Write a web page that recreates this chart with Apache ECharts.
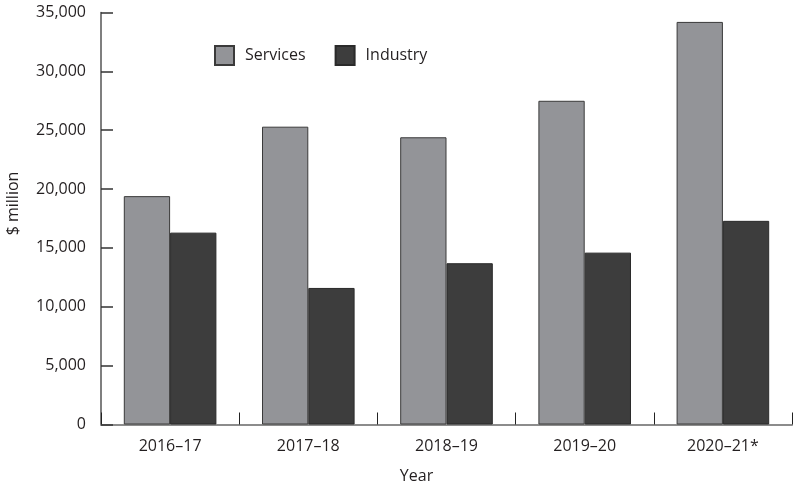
<!DOCTYPE html>
<html>
<head>
<meta charset="utf-8">
<script src="https://cdn.jsdelivr.net/npm/echarts@6/dist/echarts.min.js"></script>
<style>
  html, body { margin: 0; padding: 0; background: #fff; }
  #chart { width: 793px; height: 487px; }
</style>
</head>
<body>
<div id="chart"></div>
<script>
// Annual values, $ million
const years = ['2016–17', '2017–18', '2018–19', '2019–20', '2020–21*'];
const services = [19400, 25300, 24400, 27500, 34200];
const industry = [16300, 11600, 13700, 14600, 17300];
const yTicks = [0, 5000, 10000, 15000, 20000, 25000, 30000, 35000];

const FONT = '"Open Sans", sans-serif';
const TEXT = '#231f20';

const chart = echarts.init(document.getElementById('chart'), null, { renderer: 'canvas' });

chart.setOption({
  animation: false,
  textStyle: { fontFamily: FONT, color: TEXT },
  grid: {
    left: 101, right: 1, top: 12.5, bottom: 62.5,
    containLabel: false,
    outerBoundsMode: 'none'
  },
  legend: {
    data: ['Services', 'Industry'],
    left: 214,
    top: 45,
    padding: 0,
    itemWidth: 19,
    itemHeight: 19,
    itemGap: 29,
    textStyle: { fontFamily: FONT, fontSize: 16, color: TEXT, padding: [2, 0, 0, 6] },
    icon: 'rect'
  },
  xAxis: {
    type: 'category',
    data: years,
    name: 'Year',
    nameLocation: 'middle',
    nameGap: 44,
    nameTextStyle: { fontFamily: FONT, fontSize: 16, color: TEXT, padding: [0, 60, 0, 0] },
    axisLine: { lineStyle: { color: '#8c8c8c', width: 2 } },
    axisTick: { show: true, inside: true, length: 12, lineStyle: { color: '#222', width: 1 } },
    axisLabel: { fontFamily: FONT, fontSize: 16, color: TEXT, margin: 14 }
  },
  yAxis: {
    type: 'value',
    min: yTicks[0],
    max: yTicks[yTicks.length - 1],
    interval: yTicks[1] - yTicks[0],
    name: '$ million',
    nameLocation: 'middle',
    nameGap: 80,
    nameTextStyle: { fontFamily: FONT, fontSize: 16, color: TEXT, padding: [0, 0, 0, 30] },
    axisLine: { show: true, lineStyle: { color: '#555', width: 1.5 } },
    axisTick: { show: true, inside: true, length: 12, lineStyle: { color: '#333', width: 1.5 } },
    splitLine: { show: false },
    axisLabel: {
      fontFamily: FONT, fontSize: 16, color: TEXT, margin: 15,
      padding: [5, 0, 0, 0],
      formatter: v => v.toLocaleString('en-US')
    }
  },
  series: [
    {
      name: 'Services',
      type: 'bar',
      data: services,
      barGap: '0%',
      barCategoryGap: '33%',
      itemStyle: { color: '#939498', borderColor: '#3a3a3a', borderWidth: 1 }
    },
    {
      name: 'Industry',
      type: 'bar',
      data: industry,
      itemStyle: { color: '#3d3d3d', borderColor: '#2a2a2a', borderWidth: 1 }
    }
  ]
});
</script>
</body>
</html>
